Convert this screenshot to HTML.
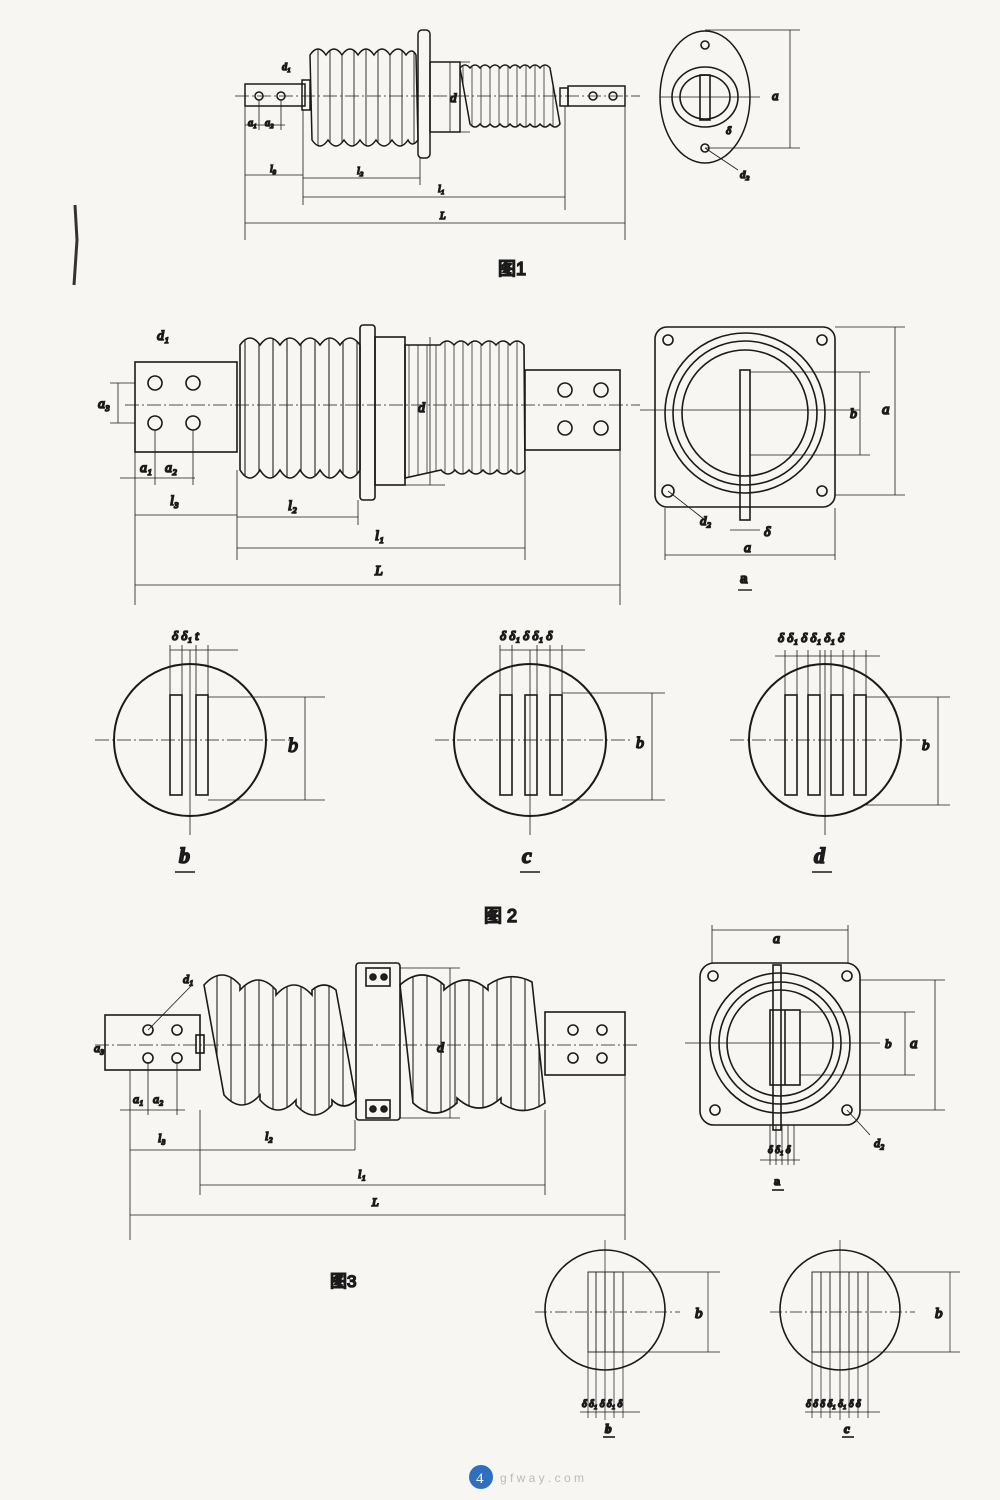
<!DOCTYPE html>
<html><head><meta charset="utf-8"><style>
html,body{margin:0;padding:0;background:#f7f6f3}
svg{display:block}
text{font-family:"Liberation Serif","Noto Serif CJK SC",serif;font-style:italic;fill:#222}
.cn{font-family:"Liberation Sans","Noto Sans CJK SC",sans-serif;font-style:normal}
</style></head><body>
<svg width="1000" height="1500" viewBox="0 0 1000 1500" xmlns="http://www.w3.org/2000/svg" fill="none" stroke="#1a1a1a" stroke-width="1.6">
<rect x="0" y="0" width="1000" height="1500" fill="#f7f6f3" stroke="none"/>
<defs>
<pattern id="sh1" width="12" height="10" patternUnits="userSpaceOnUse"><line x1="6" y1="0" x2="6" y2="10" stroke="#333" stroke-width="1"/></pattern>
<pattern id="sh2" width="14" height="10" patternUnits="userSpaceOnUse"><line x1="7" y1="0" x2="7" y2="10" stroke="#333" stroke-width="1.2"/></pattern>
<pattern id="sh3" width="9" height="10" patternUnits="userSpaceOnUse"><line x1="4" y1="0" x2="4" y2="10" stroke="#444" stroke-width="0.9"/></pattern>
</defs>
<path d="M75 205 L77 240 L74 285" stroke="#333" stroke-width="3"/>

<!-- ========== FIG 1 ========== -->
<g stroke-width="1.5">
<line x1="235" y1="96" x2="640" y2="96" stroke-dasharray="14 3 2 3" stroke-width="0.8"/>
<rect x="245" y="84" width="60" height="22"/>
<circle cx="259" cy="96" r="4"/><circle cx="281" cy="96" r="4"/>
<rect x="302" y="80" width="8" height="30"/>
<path d="M310 55 q8 -12 16 0 q8 -12 16 0 q8 -12 16 0 q8 -12 16 0 q8 -12 16 0 q8 -12 16 0 q6 -8 10 0 L418 140 q-6 8 -10 0 q-8 12 -16 0 q-8 12 -16 0 q-8 12 -16 0 q-8 12 -16 0 q-8 12 -16 0 q-8 12 -16 0 Z" fill="url(#sh1)"/>
<rect x="418" y="30" width="12" height="128" rx="4"/>
<rect x="430" y="62" width="30" height="70"/>
<path d="M460 68 q5 -6 10 0 q5 -6 10 0 q5 -6 10 0 q5 -6 10 0 q5 -6 10 0 q5 -6 10 0 q5 -6 10 0 q5 -6 10 0 q5 -6 10 0 L560 124 q-5 6 -10 0 q-5 6 -10 0 q-5 6 -10 0 q-5 6 -10 0 q-5 6 -10 0 q-5 6 -10 0 q-5 6 -10 0 q-5 6 -10 0 q-5 6 -10 0 Z" fill="url(#sh3)"/>
<rect x="560" y="88" width="8" height="18"/>
<rect x="568" y="86" width="57" height="20"/>
<circle cx="593" cy="96" r="4"/><circle cx="613" cy="96" r="4"/>
<g stroke-width="0.8">
<line x1="245" y1="106" x2="245" y2="240"/><line x1="625" y1="106" x2="625" y2="240"/>
<line x1="303" y1="110" x2="303" y2="205"/><line x1="420" y1="158" x2="420" y2="185"/><line x1="565" y1="106" x2="565" y2="210"/>
<line x1="245" y1="175" x2="303" y2="175"/><line x1="303" y1="178" x2="420" y2="178"/>
<line x1="303" y1="197" x2="565" y2="197"/><line x1="245" y1="223" x2="625" y2="223"/>
<line x1="245" y1="125" x2="285" y2="125"/><line x1="259" y1="100" x2="259" y2="130"/><line x1="281" y1="100" x2="281" y2="130"/>
<line x1="440" y1="62" x2="470" y2="62"/><line x1="440" y1="132" x2="470" y2="132"/><line x1="450" y1="62" x2="450" y2="132"/>
</g>
</g>
<g font-size="10"><text x="282" y="70">d₁</text><text x="248" y="126">a₁</text><text x="265" y="126">a₂</text>
<text x="270" y="172">l₃</text><text x="357" y="174">l₂</text><text x="438" y="192">l₁</text><text x="440" y="219">L</text><text x="450" y="102" font-size="13">d</text></g>
<text x="498" y="275" class="cn" font-size="18">图1</text>
<ellipse cx="705" cy="97" rx="45" ry="66" stroke-width="1.5"/>
<ellipse cx="705" cy="97" rx="33" ry="30"/>
<ellipse cx="705" cy="97" rx="25" ry="22"/>
<rect x="700" y="75" width="10" height="45"/>
<circle cx="705" cy="45" r="4"/><circle cx="705" cy="148" r="4"/>
<g stroke-width="0.8"><line x1="705" y1="30" x2="800" y2="30"/><line x1="705" y1="148" x2="800" y2="148"/><line x1="790" y1="30" x2="790" y2="148"/><line x1="660" y1="97" x2="760" y2="97"/><line x1="705" y1="148" x2="738" y2="170"/></g>
<text x="772" y="100" font-size="13">a</text><text x="740" y="178" font-size="11">d₂</text><text x="726" y="134" font-size="11">δ</text>

<!-- ========== FIG 2 ========== -->
<g stroke-width="1.6">
<line x1="125" y1="405" x2="640" y2="405" stroke-dasharray="14 3 2 3" stroke-width="0.8"/>
<rect x="135" y="362" width="102" height="90"/>
<circle cx="155" cy="383" r="7"/><circle cx="193" cy="383" r="7"/><circle cx="155" cy="423" r="7"/><circle cx="193" cy="423" r="7"/>
<path d="M240 345 q10 -14 20 0 q10 -14 20 0 q10 -14 20 0 q10 -14 20 0 q10 -14 20 0 q10 -14 20 0 L360 470 q-10 16 -20 0 q-10 16 -20 0 q-10 16 -20 0 q-10 16 -20 0 q-10 16 -20 0 q-10 16 -20 0 Z" fill="url(#sh2)"/>
<rect x="360" y="325" width="15" height="175" rx="3"/>
<rect x="375" y="337" width="30" height="148"/>
<path d="M405 345 L440 345 q7 -8 14 0 q7 -8 14 0 q7 -8 14 0 q7 -8 14 0 q7 -8 14 0 q7 -8 14 0 L525 470 q-7 8 -14 0 q-7 8 -14 0 q-7 8 -14 0 q-7 8 -14 0 q-7 8 -14 0 q-7 8 -14 0 L405 478 Z" fill="url(#sh3)"/>
<rect x="525" y="370" width="95" height="80"/>
<circle cx="565" cy="390" r="7"/><circle cx="601" cy="390" r="7"/><circle cx="565" cy="428" r="7"/><circle cx="601" cy="428" r="7"/>
<g stroke-width="0.8">
<line x1="135" y1="452" x2="135" y2="605"/><line x1="620" y1="450" x2="620" y2="605"/>
<line x1="237" y1="470" x2="237" y2="560"/><line x1="358" y1="500" x2="358" y2="525"/><line x1="525" y1="470" x2="525" y2="560"/>
<line x1="135" y1="515" x2="237" y2="515"/><line x1="237" y1="517" x2="358" y2="517"/><line x1="237" y1="548" x2="525" y2="548"/><line x1="135" y1="585" x2="620" y2="585"/>
<line x1="120" y1="478" x2="195" y2="478"/><line x1="155" y1="430" x2="155" y2="485"/><line x1="193" y1="430" x2="193" y2="485"/>
<line x1="110" y1="383" x2="135" y2="383"/><line x1="110" y1="423" x2="135" y2="423"/><line x1="118" y1="383" x2="118" y2="423"/>
<line x1="430" y1="337" x2="430" y2="485"/><line x1="405" y1="485" x2="445" y2="485"/>
</g>
</g>
<g font-size="14"><text x="157" y="340">d₁</text><text x="98" y="408">a₃</text><text x="140" y="472">a₁</text><text x="165" y="472">a₂</text>
<text x="170" y="505">l₃</text><text x="288" y="510">l₂</text><text x="375" y="540">l₁</text><text x="375" y="575">L</text><text x="418" y="412">d</text></g>
<rect x="655" y="327" width="180" height="180" rx="12" stroke-width="1.6"/>
<circle cx="745" cy="413" r="80" stroke-width="1.6"/><circle cx="745" cy="413" r="72"/><circle cx="745" cy="413" r="63"/>
<rect x="740" y="370" width="10" height="150"/>
<circle cx="668" cy="340" r="5"/><circle cx="822" cy="340" r="5"/><circle cx="668" cy="491" r="6"/><circle cx="822" cy="491" r="5"/>
<g stroke-width="0.8"><line x1="640" y1="410" x2="860" y2="410"/>
<line x1="750" y1="372" x2="870" y2="372"/><line x1="750" y1="455" x2="870" y2="455"/><line x1="860" y1="372" x2="860" y2="455"/>
<line x1="835" y1="327" x2="905" y2="327"/><line x1="835" y1="495" x2="905" y2="495"/><line x1="895" y1="327" x2="895" y2="495"/>
<line x1="665" y1="508" x2="665" y2="560"/><line x1="835" y1="508" x2="835" y2="560"/><line x1="665" y1="555" x2="835" y2="555"/>
<line x1="668" y1="491" x2="705" y2="520"/><line x1="730" y1="530" x2="760" y2="530"/></g>
<text x="850" y="418" font-size="14">b</text><text x="882" y="414" font-size="15">a</text><text x="700" y="525" font-size="13">d₂</text><text x="764" y="536" font-size="14">δ</text><text x="744" y="552" font-size="14">a</text>
<text x="740" y="583" font-size="15" style="font-style:normal;font-weight:bold">a</text><line x1="738" y1="590" x2="752" y2="590" stroke-width="1.4"/>

<g stroke-width="2">
<circle cx="190" cy="740" r="76"/><circle cx="530" cy="740" r="76"/><circle cx="825" cy="740" r="76"/>
</g>
<g stroke-width="1.6">
<rect x="170" y="695" width="12" height="100"/><rect x="196" y="695" width="12" height="100"/>
<rect x="500" y="695" width="12" height="100"/><rect x="525" y="695" width="12" height="100"/><rect x="550" y="695" width="12" height="100"/>
<rect x="785" y="695" width="12" height="100"/><rect x="808" y="695" width="12" height="100"/><rect x="831" y="695" width="12" height="100"/><rect x="854" y="695" width="12" height="100"/>
</g>
<g stroke-width="0.8">
<line x1="95" y1="740" x2="290" y2="740" stroke-dasharray="14 3 2 3"/><line x1="435" y1="740" x2="630" y2="740" stroke-dasharray="14 3 2 3"/><line x1="730" y1="740" x2="925" y2="740" stroke-dasharray="14 3 2 3"/>
<line x1="190" y1="650" x2="190" y2="835"/><line x1="530" y1="650" x2="530" y2="835"/><line x1="825" y1="650" x2="825" y2="835"/>
<line x1="170" y1="650" x2="238" y2="650"/><line x1="170" y1="645" x2="170" y2="695"/><line x1="182" y1="645" x2="182" y2="695"/><line x1="196" y1="645" x2="196" y2="695"/><line x1="208" y1="645" x2="208" y2="695"/>
<line x1="500" y1="650" x2="585" y2="650"/><line x1="500" y1="645" x2="500" y2="695"/><line x1="512" y1="645" x2="512" y2="695"/><line x1="537" y1="645" x2="537" y2="695"/><line x1="550" y1="645" x2="550" y2="695"/><line x1="562" y1="645" x2="562" y2="695"/>
<line x1="775" y1="656" x2="880" y2="656"/><line x1="785" y1="650" x2="785" y2="695"/><line x1="797" y1="650" x2="797" y2="695"/><line x1="808" y1="650" x2="808" y2="695"/><line x1="820" y1="650" x2="820" y2="695"/><line x1="831" y1="650" x2="831" y2="695"/><line x1="843" y1="650" x2="843" y2="695"/><line x1="854" y1="650" x2="854" y2="695"/><line x1="866" y1="650" x2="866" y2="695"/>
<line x1="208" y1="697" x2="325" y2="697"/><line x1="208" y1="800" x2="325" y2="800"/><line x1="305" y1="697" x2="305" y2="800"/>
<line x1="562" y1="693" x2="665" y2="693"/><line x1="562" y1="800" x2="665" y2="800"/><line x1="652" y1="693" x2="652" y2="800"/>
<line x1="866" y1="697" x2="950" y2="697"/><line x1="866" y1="805" x2="950" y2="805"/><line x1="938" y1="697" x2="938" y2="805"/>
</g>
<g font-size="13"><text x="172" y="640">δ δ₁ t</text><text x="500" y="640">δ δ₁ δ δ₁ δ</text><text x="778" y="642">δ δ₁ δ δ₁ δ₁ δ</text></g>
<text x="288" y="752" font-size="20">b</text><text x="636" y="748" font-size="16">b</text><text x="922" y="750" font-size="15">b</text>
<g font-size="22" style="font-style:normal;font-weight:bold"><text x="179" y="863">b</text><text x="522" y="863">c</text><text x="814" y="863">d</text></g>
<line x1="175" y1="872" x2="195" y2="872" stroke-width="1.5"/><line x1="520" y1="872" x2="540" y2="872" stroke-width="1.5"/><line x1="812" y1="872" x2="832" y2="872" stroke-width="1.5"/>
<text x="484" y="922" class="cn" font-size="18">图 2</text>

<!-- ========== FIG 3 ========== -->
<g stroke-width="1.6">
<line x1="95" y1="1045" x2="640" y2="1045" stroke-dasharray="14 3 2 3" stroke-width="0.8"/>
<rect x="105" y="1015" width="95" height="55"/>
<circle cx="148" cy="1030" r="5"/><circle cx="177" cy="1030" r="5"/><circle cx="148" cy="1058" r="5"/><circle cx="177" cy="1058" r="5"/>
<rect x="196" y="1035" width="8" height="18"/>
<path d="M204 985 q18 -20 36 0 l0 5 q18 -20 36 0 l0 5 q18 -20 36 0 l0 -5 q12 -10 24 0 L356 1100 q-12 12 -24 0 l0 5 q-18 20 -36 0 l0 -5 q-18 20 -36 0 l0 -5 q-18 20 -36 0 Z" fill="url(#sh2)"/>
<rect x="356" y="963" width="44" height="157" rx="3"/>
<rect x="366" y="968" width="24" height="18"/><rect x="366" y="1100" width="24" height="18"/>
<circle cx="373" cy="977" r="3" fill="#222"/><circle cx="384" cy="977" r="3" fill="#222"/><circle cx="373" cy="1109" r="3" fill="#222"/><circle cx="384" cy="1109" r="3" fill="#222"/>
<path d="M400 985 q22 -20 44 0 l0 5 q22 -20 44 0 l0 -5 q22 -15 44 -3 L545 1103 q-22 15 -44 0 l0 -5 q-22 20 -44 0 l0 5 q-22 20 -44 0 Z" fill="url(#sh2)"/>
<rect x="545" y="1012" width="80" height="63"/>
<circle cx="573" cy="1030" r="5"/><circle cx="602" cy="1030" r="5"/><circle cx="573" cy="1058" r="5"/><circle cx="602" cy="1058" r="5"/>
<g stroke-width="0.8">
<line x1="130" y1="1070" x2="130" y2="1240"/><line x1="625" y1="1075" x2="625" y2="1240"/>
<line x1="200" y1="1110" x2="200" y2="1195"/><line x1="355" y1="1120" x2="355" y2="1150"/><line x1="545" y1="1110" x2="545" y2="1195"/>
<line x1="130" y1="1150" x2="200" y2="1150"/><line x1="200" y1="1150" x2="355" y2="1150"/><line x1="200" y1="1185" x2="545" y2="1185"/><line x1="130" y1="1215" x2="625" y2="1215"/>
<line x1="120" y1="1110" x2="185" y2="1110"/><line x1="148" y1="1062" x2="148" y2="1115"/><line x1="177" y1="1062" x2="177" y2="1115"/>
<line x1="400" y1="968" x2="460" y2="968"/><line x1="400" y1="1118" x2="460" y2="1118"/><line x1="450" y1="968" x2="450" y2="1118"/>
<line x1="148" y1="1030" x2="192" y2="985"/>
</g>
</g>
<g font-size="12"><text x="183" y="983">d₁</text><text x="94" y="1052">a₃</text><text x="133" y="1103">a₁</text><text x="153" y="1103">a₂</text>
<text x="158" y="1142">l₃</text><text x="265" y="1140">l₂</text><text x="358" y="1178">l₁</text><text x="372" y="1206">L</text><text x="437" y="1052" font-size="14">d</text></g>
<text x="330" y="1287" class="cn" font-size="17">图3</text>
<rect x="700" y="963" width="160" height="162" rx="14" stroke-width="1.6"/>
<circle cx="780" cy="1043" r="70" stroke-width="1.6"/><circle cx="780" cy="1043" r="61"/><circle cx="780" cy="1043" r="53"/>
<rect x="773" y="965" width="8" height="165"/><rect x="770" y="1010" width="30" height="75"/><line x1="785" y1="1010" x2="785" y2="1085"/>
<circle cx="713" cy="976" r="5"/><circle cx="847" cy="976" r="5"/><circle cx="715" cy="1110" r="5"/><circle cx="847" cy="1110" r="5"/>
<g stroke-width="0.8"><line x1="685" y1="1043" x2="880" y2="1043"/>
<line x1="712" y1="925" x2="712" y2="963"/><line x1="848" y1="925" x2="848" y2="963"/><line x1="712" y1="930" x2="848" y2="930"/>
<line x1="800" y1="1012" x2="915" y2="1012"/><line x1="800" y1="1075" x2="915" y2="1075"/><line x1="905" y1="1012" x2="905" y2="1075"/>
<line x1="860" y1="980" x2="945" y2="980"/><line x1="860" y1="1110" x2="945" y2="1110"/><line x1="935" y1="980" x2="935" y2="1110"/>
<line x1="847" y1="1110" x2="870" y2="1135"/>
<line x1="760" y1="1160" x2="800" y2="1160"/><line x1="770" y1="1125" x2="770" y2="1165"/><line x1="776" y1="1125" x2="776" y2="1165"/><line x1="782" y1="1125" x2="782" y2="1165"/><line x1="788" y1="1125" x2="788" y2="1165"/><line x1="794" y1="1125" x2="794" y2="1165"/></g>
<text x="773" y="943" font-size="14">a</text><text x="885" y="1048" font-size="13">b</text><text x="910" y="1048" font-size="15">a</text><text x="874" y="1147" font-size="12">d₂</text><text x="768" y="1153" font-size="10">δ δ₁ δ</text>
<text x="774" y="1185" font-size="12" style="font-style:normal;font-weight:bold">a</text><line x1="772" y1="1190" x2="784" y2="1190"/>
<circle cx="605" cy="1310" r="60" stroke-width="1.6"/><circle cx="840" cy="1310" r="60" stroke-width="1.6"/>
<g stroke-width="0.9">
<rect x="588" y="1272" width="35" height="80"/><line x1="596" y1="1272" x2="596" y2="1352"/><line x1="605" y1="1272" x2="605" y2="1352"/><line x1="614" y1="1272" x2="614" y2="1352"/>
<rect x="812" y="1272" width="56" height="80"/><line x1="821" y1="1272" x2="821" y2="1352"/><line x1="830" y1="1272" x2="830" y2="1352"/><line x1="840" y1="1272" x2="840" y2="1352"/><line x1="849" y1="1272" x2="849" y2="1352"/><line x1="858" y1="1272" x2="858" y2="1352"/>
</g>
<g stroke-width="0.7">
<line x1="535" y1="1312" x2="680" y2="1312" stroke-dasharray="12 3 2 3"/><line x1="770" y1="1312" x2="915" y2="1312" stroke-dasharray="12 3 2 3"/>
<line x1="605" y1="1240" x2="605" y2="1420"/><line x1="840" y1="1240" x2="840" y2="1420"/>
<line x1="623" y1="1272" x2="720" y2="1272"/><line x1="623" y1="1352" x2="720" y2="1352"/><line x1="708" y1="1272" x2="708" y2="1352"/>
<line x1="868" y1="1272" x2="960" y2="1272"/><line x1="868" y1="1352" x2="960" y2="1352"/><line x1="950" y1="1272" x2="950" y2="1352"/>
<line x1="580" y1="1412" x2="640" y2="1412"/><line x1="805" y1="1412" x2="880" y2="1412"/>
<line x1="588" y1="1352" x2="588" y2="1418"/><line x1="596" y1="1352" x2="596" y2="1418"/><line x1="614" y1="1352" x2="614" y2="1418"/><line x1="623" y1="1352" x2="623" y2="1418"/>
<line x1="812" y1="1352" x2="812" y2="1418"/><line x1="821" y1="1352" x2="821" y2="1418"/><line x1="830" y1="1352" x2="830" y2="1418"/><line x1="849" y1="1352" x2="849" y2="1418"/><line x1="858" y1="1352" x2="858" y2="1418"/><line x1="868" y1="1352" x2="868" y2="1418"/>
</g>
<text x="695" y="1318" font-size="15">b</text><text x="935" y="1318" font-size="15">b</text>
<text x="582" y="1407" font-size="10">δ δ₁ δ δ₁ δ</text><text x="806" y="1407" font-size="10">δ δ δ δ₁ δ₁ δ δ</text>
<g font-size="13" style="font-style:normal;font-weight:bold"><text x="605" y="1433">b</text><text x="844" y="1433">c</text></g>
<line x1="603" y1="1437" x2="615" y2="1437"/><line x1="842" y1="1437" x2="854" y2="1437"/>
<circle cx="481" cy="1477" r="12" fill="#2f6fc0" stroke="none"/>
<text x="476" y="1483" font-size="15" stroke="none" style="font-style:normal;fill:#fff">4</text>
<text x="500" y="1482" font-size="12" class="cn" style="fill:#bbb" stroke="none">g f w a y . c o m</text>
</svg>
</body></html>
